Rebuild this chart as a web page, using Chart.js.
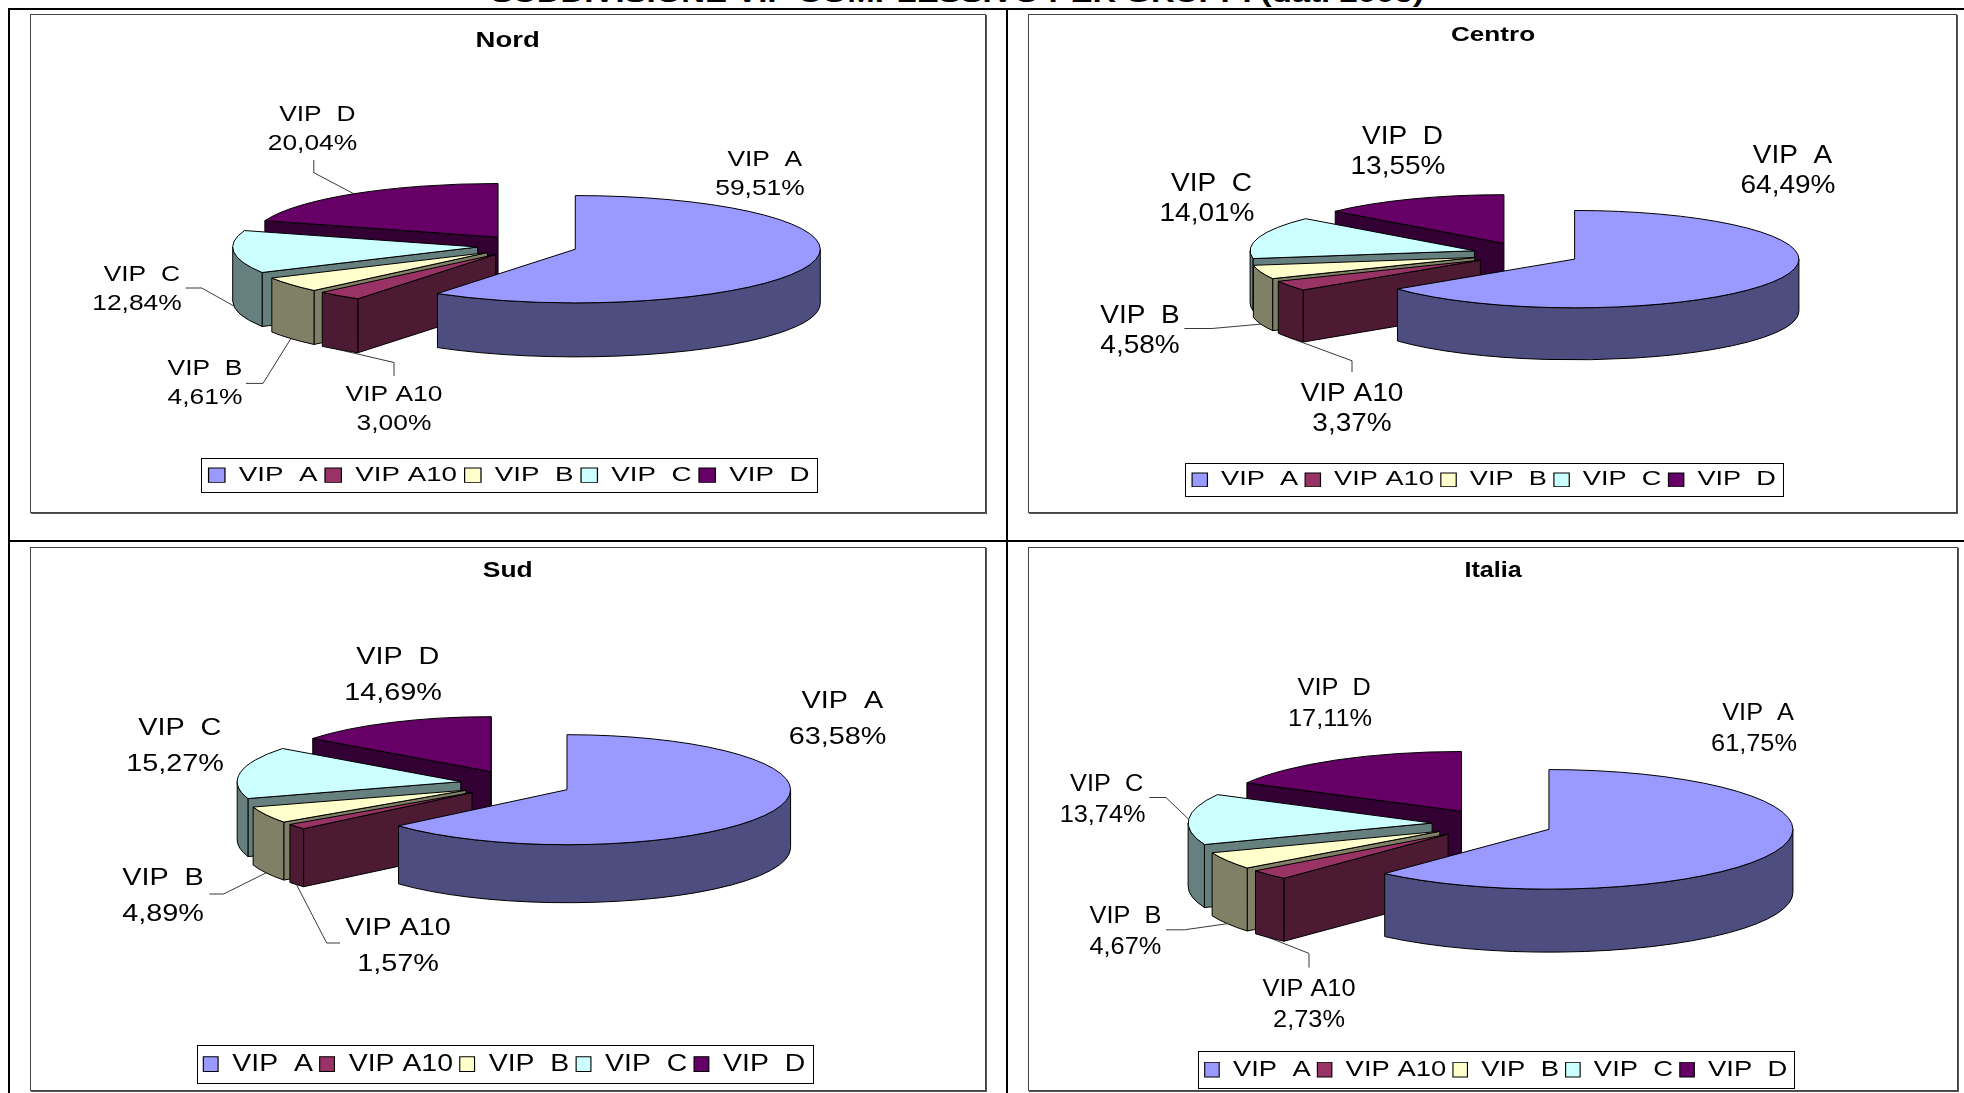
<!DOCTYPE html>
<html lang="it">
<head>
<meta charset="utf-8">
<title>Suddivisione VIP</title>
<script src="https://cdn.jsdelivr.net/npm/chart.js@4/dist/chart.umd.min.js"></script>
<style>
    html, body { margin: 0; padding: 0; background: #fff; overflow: hidden; }
    #page { position: relative; width: 1964px; height: 1093px; overflow: hidden; }
    .rule { position: absolute; background: #000; }
    canvas { position: absolute; display: block; background: #fff; box-shadow: 0 0 0 1px #444, 1px 1px 0 1px #555; }
    #mainTitle {
        position: absolute; left: 491px; top: -18px; white-space: pre; transform-origin: 0 0;
        font: bold 24px/24px "Liberation Sans", Arial, sans-serif; color: #000;
    }
</style>
</head>
<body>
<div id="page">
    <div id="mainTitle">SUDDIVISIONE VIP COMPLESSIVO PER GRUPPI (dati 2006)</div>
    <div class="rule" style="left:8px;top:8px;width:1956px;height:2px"></div>
    <div class="rule" style="left:8px;top:8px;width:2px;height:1085px"></div>
    <div class="rule" style="left:1006px;top:8px;width:2px;height:1085px"></div>
    <div class="rule" style="left:8px;top:540px;width:1956px;height:2px"></div>
    <canvas id="chartNord" width="954" height="497" style="left:31px;top:15px"></canvas>
    <canvas id="chartCentro" width="927" height="497" style="left:1029px;top:15px"></canvas>
    <canvas id="chartSud" width="954" height="542" style="left:31px;top:548px"></canvas>
    <canvas id="chartItalia" width="928" height="542" style="left:1029px;top:548px"></canvas>
</div>

<script>
// 資料
const categories = ['VIP  A', 'VIP A10', 'VIP  B', 'VIP  C', 'VIP  D'];
const nordValues = [59.51, 3.00, 4.61, 12.84, 20.04];
const centroValues = [64.49, 3.37, 4.58, 14.01, 13.55];
const sudValues = [63.58, 1.57, 4.89, 15.27, 14.69];
const italiaValues = [61.75, 2.73, 4.67, 13.74, 17.11];

const TOP_COLORS = ['#9999FF', '#993366', '#FFFFCC', '#CCFFFF', '#660066'];
const WALL_COLORS = ['#4D4D80', '#4D1A33', '#808066', '#668080', '#330033'];
const FONT = '"Liberation Sans", Arial, sans-serif';

// Page coordinates of each panel: frame, pie centre, text places, leader elbows
const PANELS = [
    {
        id: 'chartNord', name: 'Nord', values: nordValues, x: 31, y: 15,
        pie: { x: 527.5, y: 246, r: 245, off: 50, squash: 0.219, depth: 54 },
        title: { x: 507.7, y: 40.5, size: 22, stretch: 1.25 },
        legend: { x: 201, y: 458, w: 616, h: 34, size: 22 },
        label: { size: 22, stretch: 1.2, gap: 28.5 },
        spots: [[760, 160], [394, 395], [205, 369], [137, 275], [312.5, 115]],
        leaders: {
            1: [[394, 376], [394, 362.5]],
            2: [[246, 383.4], [263, 383.4]],
            3: [[185.6, 288], [201.7, 288]],
            4: [[313.8, 160], [313.8, 172.7]],
        },
    },
    {
        id: 'chartCentro', name: 'Centro', values: centroValues, x: 1029, y: 15,
        pie: { x: 1526.2, y: 254, r: 224.3, off: 53.9, squash: 0.217, depth: 52 },
        title: { x: 1493, y: 36, size: 19.5, stretch: 1.34 },
        legend: { x: 1185, y: 463, w: 598, h: 33, size: 23 },
        label: { size: 25, stretch: 1.12, gap: 30 },
        spots: [[1788, 156], [1352, 394.5], [1140, 316], [1207, 184.5], [1398, 137]],
        leaders: {
            1: [[1352, 372], [1352, 360.8]],
            2: [[1184.4, 328.5], [1212, 328.5]],
        },
    },
    {
        id: 'chartSud', name: 'Sud', values: sudValues, x: 31, y: 548,
        pie: { x: 516, y: 784, r: 223.6, off: 56, squash: 0.246, depth: 58 },
        title: { x: 507.7, y: 570.5, size: 22, stretch: 1.2 },
        legend: { x: 196.5, y: 1045, w: 615.5, h: 38, size: 25 },
        label: { size: 24, stretch: 1.2, gap: 36 },
        spots: [[837.6, 701.5], [398, 928], [163, 878.5], [175, 728], [393, 657.5]],
        leaders: {
            1: [[340, 943], [326.7, 943]],
            2: [[209.4, 894], [223.6, 894]],
        },
    },
    {
        id: 'chartItalia', name: 'Italia', values: italiaValues, x: 1029, y: 548,
        pie: { x: 1492.5, y: 824, r: 244, off: 60.5, squash: 0.245, depth: 63 },
        title: { x: 1493, y: 570.5, size: 22, stretch: 1.14 },
        legend: { x: 1198, y: 1051, w: 596, h: 37, size: 24.6 },
        label: { size: 24.6, stretch: 1.03, gap: 31 },
        spots: [[1754, 713], [1309, 989.5], [1125.4, 916], [1102.6, 784], [1330, 688.5]],
        leaders: {
            1: [[1309, 967.5], [1309, 953.4]],
            2: [[1166, 929.8], [1184.4, 929.8]],
            3: [[1149.4, 797.5], [1166, 797.5]],
        },
    },
];

function formatPercent(v) {
    return v.toFixed(2).replace('.', ',') + '%';
}

// Slice corner on the tilted plane, from the arc element the library laid out
function sliceGeometry(chart, arc, p) {
    const mid = (arc.startAngle + arc.endAngle) / 2;
    const off = arc.options.offset;
    const area = chart.chartArea;
    const dx = arc.x - (area.left + area.right) / 2 + Math.cos(mid) * off;
    const dy = arc.y - (area.top + area.bottom) / 2 + Math.sin(mid) * off;
    return {
        x: p.pie.x - p.x + dx,
        y: p.pie.y - p.y + dy * p.pie.squash,
        rx: arc.outerRadius,
        ry: arc.outerRadius * p.pie.squash,
        start: arc.startAngle,
        end: arc.endAngle,
        mid: mid,
    };
}

function fillAndStroke(ctx, color) {
    ctx.fillStyle = color;
    ctx.fill();
    ctx.stroke();
}

function radialWall(ctx, g, angle, depth, color) {
    const ex = g.x + Math.cos(angle) * g.rx;
    const ey = g.y + Math.sin(angle) * g.ry;
    ctx.beginPath();
    ctx.moveTo(g.x, g.y);
    ctx.lineTo(ex, ey);
    ctx.lineTo(ex, ey + depth);
    ctx.lineTo(g.x, g.y + depth);
    ctx.closePath();
    fillAndStroke(ctx, color);
}

function drawSlice(ctx, g, depth, topColor, wallColor) {
    if (Math.cos(g.start) < 0) radialWall(ctx, g, g.start, depth, wallColor);
    if (Math.cos(g.end) > 0) radialWall(ctx, g, g.end, depth, wallColor);

    // only the near half of the rim can be seen
    const a = Math.max(g.start, 0);
    const b = Math.min(g.end, Math.PI);
    if (b > a) {
        ctx.beginPath();
        ctx.ellipse(g.x, g.y, g.rx, g.ry, 0, a, b);
        ctx.ellipse(g.x, g.y + depth, g.rx, g.ry, 0, b, a, true);
        ctx.closePath();
        fillAndStroke(ctx, wallColor);
    }

    ctx.beginPath();
    ctx.moveTo(g.x, g.y);
    ctx.ellipse(g.x, g.y, g.rx, g.ry, 0, g.start, g.end);
    ctx.closePath();
    fillAndStroke(ctx, topColor);
}

function drawLeader(ctx, g, depth, points, p) {
    const sinMid = Math.sin(g.mid);
    const endX = g.x + Math.cos(g.mid) * g.rx;
    const endY = g.y + sinMid * g.ry + (sinMid > 0 ? depth : 0);
    ctx.beginPath();
    ctx.moveTo(points[0][0] - p.x, points[0][1] - p.y);
    ctx.lineTo(points[1][0] - p.x, points[1][1] - p.y);
    ctx.lineTo(endX, endY);
    ctx.stroke();
}

function drawLabel(ctx, p, index, value) {
    const spot = p.spots[index];
    // A, C and D names sit a little right of the percent line
    const nudge = [0, 3, 4].includes(index) ? 4 : 0;
    ctx.save();
    ctx.fillStyle = '#000';
    ctx.font = p.label.size + 'px ' + FONT;
    ctx.textAlign = 'center';
    ctx.textBaseline = 'middle';
    ctx.translate(spot[0] - p.x, spot[1] - p.y);
    ctx.scale(p.label.stretch, 1);
    ctx.fillText(categories[index], nudge, 0);
    ctx.fillText(formatPercent(value), 0, p.label.gap);
    ctx.restore();
}

// Maps the library's legend and title boxes onto the stretched places of the original
function wrapBoxes(chart, p) {
    const legend = chart.legend;
    const title = chart.titleBlock;
    if (legend._wrapped) return;
    legend._wrapped = true;

    const drawLegend = legend.draw;
    legend.draw = function () {
        const ctx = chart.ctx;
        const t = p.legend;
        const rowWidth = legend.lineWidths[0] + legend.options.labels.padding;
        ctx.save();
        ctx.translate(t.x + t.w / 2 - p.x, t.y + t.h / 2 - p.y + 2);
        ctx.scale(t.w / rowWidth, t.h / legend.height);
        ctx.translate(-(legend.left + legend.right) / 2, -(legend.top + legend.bottom) / 2);
        drawLegend.call(legend);
        ctx.restore();
        ctx.save();
        ctx.strokeStyle = '#000';
        ctx.lineWidth = 1;
        ctx.strokeRect(Math.round(t.x - p.x) + 0.5, Math.round(t.y - p.y) + 0.5, Math.round(t.w), Math.round(t.h));
        ctx.restore();
    };

    const drawTitle = title.draw;
    title.draw = function () {
        const ctx = chart.ctx;
        ctx.save();
        ctx.translate(p.title.x - p.x, p.title.y - p.y);
        ctx.scale(p.title.stretch, 1);
        ctx.translate(-(title.left + title.right) / 2, -(title.top + title.bottom) / 2);
        drawTitle.call(title);
        ctx.restore();
    };
}

const tiltedPie = {
    id: 'tiltedPie',
    afterLayout(chart, args, opts) {
        wrapBoxes(chart, opts.panel);
    },
    beforeDatasetDraw(chart, args, opts) {
        const p = opts.panel;
        const ctx = chart.ctx;
        const arcs = chart.getDatasetMeta(0).data;
        const shapes = arcs.map(arc => sliceGeometry(chart, arc, p));

        ctx.save();
        ctx.strokeStyle = '#000';
        ctx.lineWidth = 1;
        ctx.lineJoin = 'round';
        // painter's order: back slice first, VIP A last
        for (let i = shapes.length - 1; i >= 0; i--) {
            drawSlice(ctx, shapes[i], p.pie.depth, TOP_COLORS[i], WALL_COLORS[i]);
        }
        ctx.lineWidth = 0.9;
        ctx.strokeStyle = '#222';
        shapes.forEach((g, i) => {
            if (p.leaders[i]) drawLeader(ctx, g, p.pie.depth, p.leaders[i], p);
        });
        ctx.restore();

        p.values.forEach((v, i) => drawLabel(ctx, p, i, v));
        return false;
    },
};

function renderPanel(p) {
    const canvas = document.getElementById(p.id);
    return new Chart(canvas, {
        type: 'pie',
        data: {
            labels: categories,
            datasets: [{
                data: p.values,
                backgroundColor: TOP_COLORS,
                borderColor: '#000',
                borderWidth: 1,
                offset: p.pie.off,
            }],
        },
        options: {
            responsive: false,
            animation: false,
            events: [],
            radius: p.pie.r,
            plugins: {
                tiltedPie: { panel: p },
                tooltip: { enabled: false },
                title: {
                    display: true,
                    text: p.name,
                    color: '#000',
                    font: { family: FONT, size: p.title.size, weight: 'bold' },
                },
                legend: {
                    position: 'bottom',
                    labels: {
                        color: '#000',
                        font: { family: FONT, size: p.legend.size },
                        boxWidth: 13,
                        boxHeight: 16,
                        padding: 6,
                    },
                },
            },
        },
        plugins: [tiltedPie],
    });
}

PANELS.forEach(renderPanel);

// main heading, cut by the top of the page as in the original
const heading = document.getElementById('mainTitle');
heading.style.transform = 'scaleX(' + (933 / heading.offsetWidth) + ')';
</script>
</body>
</html>
